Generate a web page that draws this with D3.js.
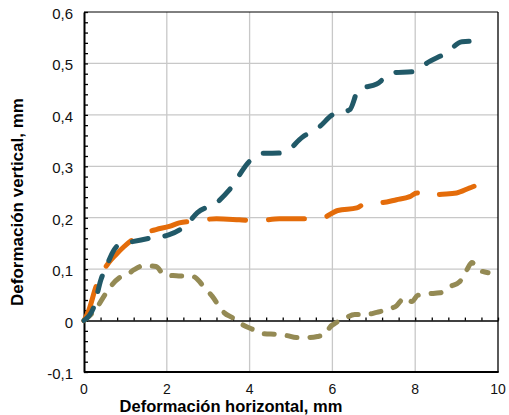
<!DOCTYPE html>
<html>
<head>
<meta charset="utf-8">
<script src="https://cdn.jsdelivr.net/npm/d3@7"></script>
<style>
  body { margin: 0; background: #fff; }
  svg { font-family: "Liberation Sans", Arial, sans-serif; }
</style>
</head>
<body>
<div id="chart"></div>
<script>
const tealX = [0, 0.24, 0.41, 0.53, 0.73, 0.85, 1.14, 1.57, 2.06, 2.47, 2.74, 3.2, 3.51, 4.0, 4.29, 4.8, 5.28, 5.69, 6.0, 6.42, 6.63, 7.07, 7.46, 7.94, 8.33, 8.74, 9.13, 9.59];
const tealY = [0, 0.027, 0.08, 0.103, 0.138, 0.148, 0.153, 0.16, 0.167, 0.186, 0.21, 0.229, 0.254, 0.31, 0.325, 0.326, 0.357, 0.377, 0.40, 0.41, 0.449, 0.46, 0.482, 0.484, 0.503, 0.52, 0.542, 0.544];

const orangeX = [0, 0.12, 0.29, 0.44, 0.6, 0.77, 0.97, 1.28, 1.74, 2.06, 2.3, 2.71, 3.2, 3.75, 4.19, 4.72, 5.69, 6.13, 6.59, 6.83, 7.12, 7.55, 7.87, 8.04, 8.23, 8.55, 9.0, 9.32, 9.56, 9.73, 9.93];
const orangeY = [0, 0.021, 0.066, 0.093, 0.113, 0.128, 0.144, 0.163, 0.177, 0.183, 0.19, 0.194, 0.198, 0.196, 0.194, 0.198, 0.198, 0.214, 0.219, 0.229, 0.229, 0.235, 0.241, 0.248, 0.241, 0.245, 0.248, 0.258, 0.264, 0.26, 0.252];

const oliveX = [0, 0.31, 0.48, 0.68, 0.85, 1.04, 1.21, 1.45, 1.74, 1.94, 2.23, 2.66, 2.74, 2.95, 3.1, 3.27, 3.39, 3.58, 3.83, 4.07, 4.31, 4.65, 4.89, 5.13, 5.45, 5.64, 5.86, 5.93, 6.05, 6.3, 6.54, 6.83, 7.07, 7.31, 7.55, 7.75, 7.92, 8.06, 8.3, 8.6, 8.84, 9.08, 9.25, 9.37, 9.49, 9.76];
const oliveY = [0, 0.025, 0.047, 0.07, 0.083, 0.089, 0.099, 0.107, 0.105, 0.089, 0.087, 0.085, 0.08, 0.06, 0.047, 0.027, 0.015, 0.006, -0.008, -0.017, -0.025, -0.027, -0.029, -0.033, -0.033, -0.031, -0.025, -0.014, -0.006, 0.004, 0.012, 0.012, 0.016, 0.021, 0.029, 0.045, 0.037, 0.049, 0.052, 0.054, 0.066, 0.076, 0.099, 0.113, 0.101, 0.093];

const xTicks = [0, 2, 4, 6, 8, 10];
const yTicks = [-0.1, 0, 0.1, 0.2, 0.3, 0.4, 0.5, 0.6];

const width = 509;
const height = 415;
const plotLeft = 84, plotRight = 498, plotTop = 12, plotBottom = 372;

const x = d3.scaleLinear().domain([0, 10]).range([plotLeft, plotRight]);
const y = d3.scaleLinear().domain([-0.1, 0.6]).range([plotBottom, plotTop]);

const svg = d3.select('#chart')
    .append('svg')
    .attr('width', width)
    .attr('height', height);

// gridlines
svg.append('g')
    .selectAll('line')
    .data(xTicks.slice(1, -1))
    .enter()
        .append('line')
        .attr('x1', (d) => x(d)).attr('x2', (d) => x(d))
        .attr('y1', plotTop).attr('y2', plotBottom)
        .attr('stroke', '#c8c8c8').attr('stroke-width', 1.3);

svg.append('g')
    .selectAll('line')
    .data(yTicks.filter((d) => d > 0.05 && d < 0.55))
    .enter()
        .append('line')
        .attr('x1', plotLeft).attr('x2', plotRight)
        .attr('y1', (d) => y(d)).attr('y2', (d) => y(d))
        .attr('stroke', '#c8c8c8').attr('stroke-width', 1.3);

// frame
svg.append('line').attr('x1', plotLeft).attr('x2', plotRight).attr('y1', plotTop).attr('y2', plotTop)
    .attr('stroke', '#000').attr('stroke-width', 1);
svg.append('line').attr('x1', plotRight).attr('x2', plotRight).attr('y1', plotTop).attr('y2', plotBottom)
    .attr('stroke', '#000').attr('stroke-width', 1.3);
svg.append('line').attr('x1', plotLeft).attr('x2', plotRight + 0.7).attr('y1', plotBottom).attr('y2', plotBottom)
    .attr('stroke', '#000').attr('stroke-width', 2);

// y axis with minor inward ticks
const yAxis = d3.axisRight(y)
    .tickValues(d3.range(-0.1, 0.6001, 0.02))
    .tickSize(4)
    .tickSizeOuter(0)
    .tickFormat('');
svg.append('g')
    .attr('transform', `translate(${plotLeft}, 0)`)
    .call(yAxis)
    .call((g) => g.select('.domain').attr('stroke-width', 2))
    .call((g) => g.selectAll('.tick line').attr('stroke-width', 1.3));

// x axis at y = 0 with minor upward ticks
const xAxis = d3.axisTop(x)
    .tickValues(d3.range(0, 10.001, 0.4))
    .tickSize(3)
    .tickFormat('')
    .tickSizeOuter(0);
svg.append('g')
    .attr('transform', `translate(0, ${y(0)})`)
    .call(xAxis)
    .call((g) => g.select('.domain').attr('stroke-width', 1.5))
    .call((g) => g.selectAll('.tick line').attr('stroke-width', 1.3));

// tick labels
const fmtY = (d) => (Math.abs(d) < 1e-9 ? '0' : d3.format('.1f')(d).replace('.', ',').replace('−', '-'));

svg.append('g')
    .selectAll('text')
    .data(yTicks)
    .enter()
        .append('text')
        .attr('x', 73)
        .attr('y', (d) => y(d) + 7)
        .attr('text-anchor', 'end')
        .attr('font-size', 15)
        .attr('fill', '#111')
        .text(fmtY);

svg.append('g')
    .selectAll('text')
    .data(xTicks)
    .enter()
        .append('text')
        .attr('x', (d) => x(d))
        .attr('y', 394)
        .attr('text-anchor', 'middle')
        .attr('font-size', 14)
        .attr('fill', '#111')
        .text((d) => d);

// axis titles
svg.append('text')
    .attr('x', 231)
    .attr('y', 412)
    .attr('text-anchor', 'middle')
    .attr('font-size', 16.5)
    .attr('font-weight', 'bold')
    .text('Deformación horizontal, mm');

svg.append('text')
    .attr('transform', 'translate(23, 202) rotate(-90)')
    .attr('text-anchor', 'middle')
    .attr('font-size', 17)
    .attr('font-weight', 'bold')
    .text('Deformación vertical, mm');

// series
const line = d3.line()
    .x((d) => x(d[0]))
    .y((d) => y(d[1]))
    .curve(d3.curveMonotoneX);

const series = [
    { xs: oliveX, ys: oliveY, color: '#948a54', dash: '10,13' },
    { xs: orangeX, ys: orangeY, color: '#e46c0a', dash: '36,23' },
    { xs: tealX, ys: tealY, color: '#215968', dash: '16,17' }
];

svg.append('g')
    .selectAll('path')
    .data(series)
    .enter()
        .append('path')
        .attr('d', (s) => line(s.xs.map((v, i) => [v, s.ys[i]])))
        .attr('fill', 'none')
        .attr('stroke', (s) => s.color)
        .attr('stroke-width', 5)
        .attr('stroke-linecap', 'round')
        .attr('stroke-linejoin', 'round')
        .attr('stroke-dasharray', (s) => s.dash);
</script>
</body>
</html>
